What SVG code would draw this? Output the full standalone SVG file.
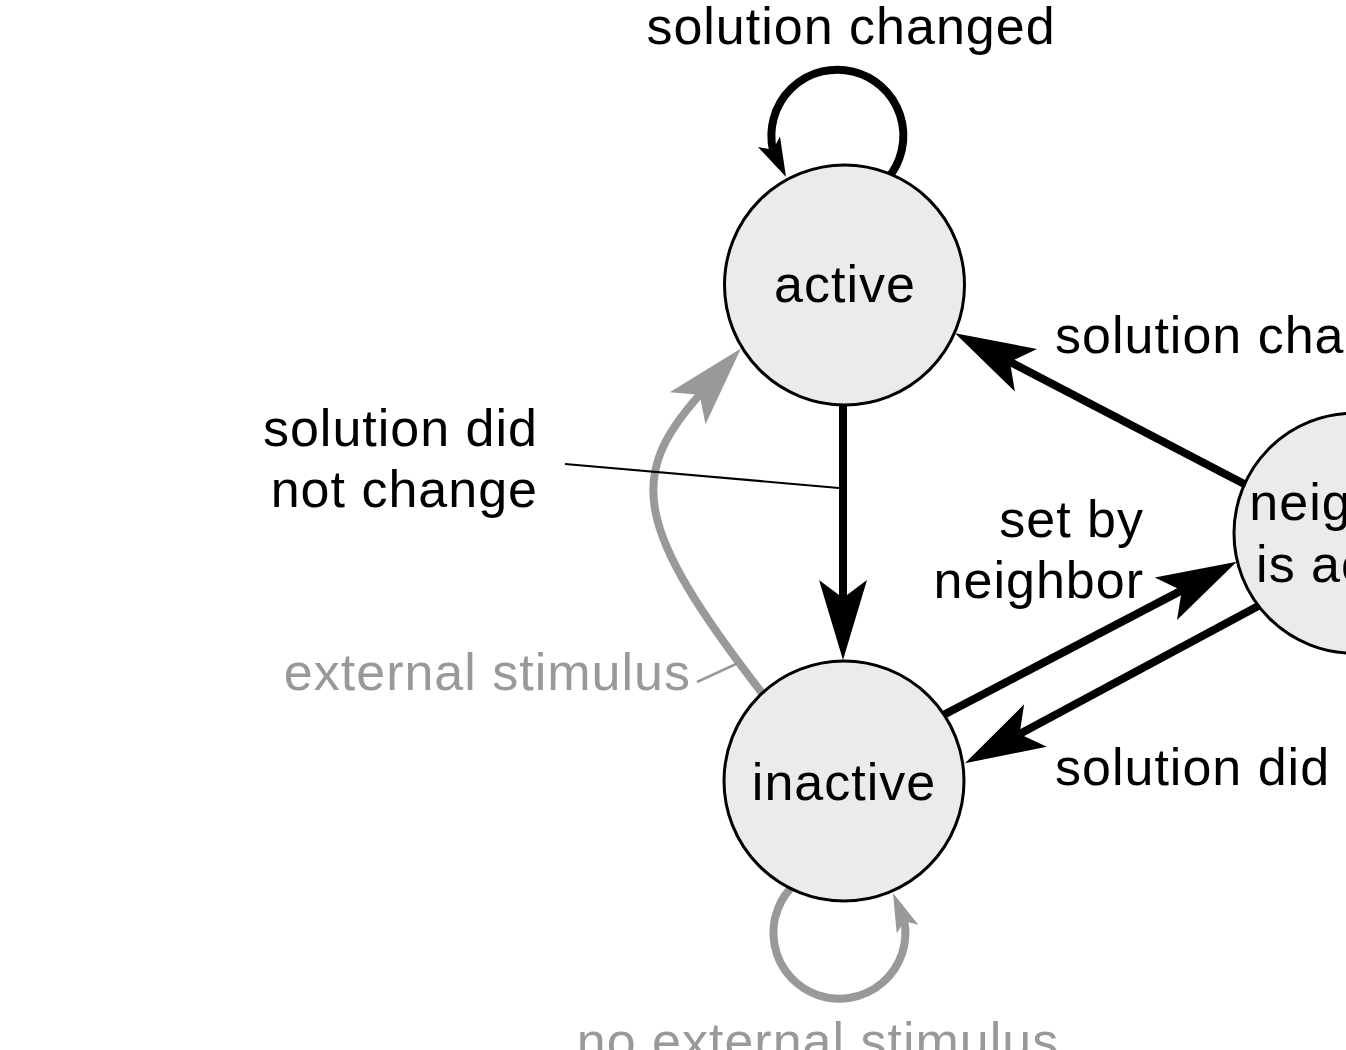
<svg xmlns="http://www.w3.org/2000/svg" width="1346" height="1050" viewBox="0 0 1346 1050">
<style>
.t{font-family:"Liberation Sans",Arial,sans-serif;font-size:52px;fill:#000;letter-spacing:1px}
.g{fill:#999}
.node{fill:#ebebeb;stroke:#000;stroke-width:3}
.blk{fill:none;stroke:#000;stroke-width:8}
.gry{fill:none;stroke:#999;stroke-width:8}
.lead{fill:none;stroke:#000;stroke-width:2.2}
.leadg{fill:none;stroke:#999;stroke-width:2.5}
.ahb{fill:#000}
.ahg{fill:#999}
</style>
<defs>
<marker id="ab" markerUnits="userSpaceOnUse" markerWidth="100" markerHeight="60" viewBox="-20 -30 100 60" refX="0" refY="0" orient="auto" overflow="visible">
<path d="M62,0 L-18,-24 L0,0 L-18,24 Z" fill="#000"/>
</marker>
<marker id="ag" markerUnits="userSpaceOnUse" markerWidth="100" markerHeight="60" viewBox="-20 -30 100 60" refX="0" refY="0" orient="auto" overflow="visible">
<path d="M62,0 L-18,-24 L0,0 L-18,24 Z" fill="#999"/>
</marker>
</defs>
<rect width="1346" height="1050" fill="#fff"/>
<g id="connectors">
<path class="blk" d="M888,178 A66,66 0 1 0 772.9,149.8"/>
<polygon class="ahb" points="786,177 758,147 772.9,149.8 780,136.5"/>
<line class="blk" x1="843" y1="400" x2="843" y2="598" marker-end="url(#ab)"/>
<line class="blk" x1="1250" y1="487" x2="1010" y2="361.9" marker-end="url(#ab)"/>
<line class="blk" x1="940" y1="716.8" x2="1181.8" y2="590.4" marker-end="url(#ab)"/>
<line class="blk" x1="1262" y1="604" x2="1019.6" y2="734" marker-end="url(#ab)"/>
<path class="gry" d="M768,701 L762,693 C633.5,527 627.3,475.7 699.6,394.8" marker-end="url(#ag)"/>
<path class="gry" d="M796,883 A66,66 0 1 0 904.4,921.2"/>
<polygon class="ahg" points="893,893 918.3,924.7 904.4,921.2 896.7,933.3"/>
<line class="lead" x1="565" y1="464" x2="839" y2="488"/>
<line class="leadg" x1="697" y1="682" x2="736" y2="664"/>
</g>
<g id="node-active">
<circle class="node" cx="844.5" cy="285" r="120"/>
<text class="t" x="845" y="302" text-anchor="middle">active</text>
</g>
<g id="node-inactive">
<circle class="node" cx="844" cy="781" r="120"/>
<text class="t" x="844" y="800" text-anchor="middle">inactive</text>
</g>
<g id="node-neighbor">
<circle class="node" cx="1354" cy="533.3" r="120"/>
<text class="t" x="1354.5" y="520" text-anchor="middle">neighbor</text>
<text class="t" x="1354.5" y="582" text-anchor="middle">is active</text>
</g>
<g id="labels">
<text class="t" x="851" y="44" text-anchor="middle">solution changed</text>
<text class="t" x="1055" y="353">solution changed</text>
<text class="t" x="538" y="446" text-anchor="end">solution did</text>
<text class="t" x="538" y="507" text-anchor="end">not change</text>
<text class="t" x="1144" y="537" text-anchor="end">set by</text>
<text class="t" x="1144" y="598" text-anchor="end">neighbor</text>
<text class="t" x="1055" y="785">solution did</text>
<text class="t g" x="691" y="690" text-anchor="end">external stimulus</text>
<text class="t g" x="818" y="1059" text-anchor="middle">no external stimulus</text>
</g>
</svg>
